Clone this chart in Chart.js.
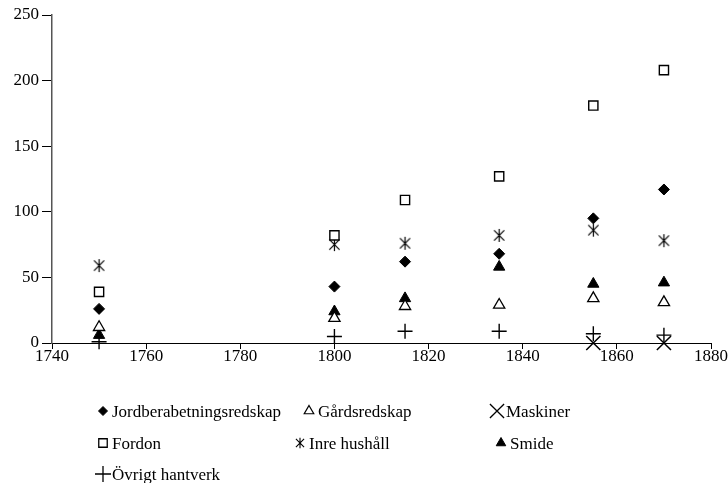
<!DOCTYPE html>
<html>
<head>
<meta charset="utf-8">
<script src="https://cdn.jsdelivr.net/npm/chart.js@4/dist/chart.umd.min.js"></script>
<style>
html,body{margin:0;padding:0;background:#fff;}
#wrap{position:relative;width:728px;height:483px;}
</style>
</head>
<body>
<div id="wrap"><canvas id="c" width="728" height="483"></canvas></div>
<script>
const years = [1750, 1800, 1815, 1835, 1855, 1870];
const seriesNames = ["Jordberabetningsredskap", "Gårdsredskap", "Maskiner", "Fordon", "Inre hushåll", "Smide", "Övrigt hantverk"];
const jord = [26, 43, 62, 68, 95, 117];
const gards = [12, 19, 28, 29, 34, 31];
const maskiner = [null, null, null, null, 0, 0];
const fordon = [39, 82, 109, 127, 181, 208];
const inre = [59, 75, 76, 82, 86, 78];
const smide = [6, 24, 34, 58, 45, 46];
const ovrigt = [1, 5, 9, 9, 7, 6];
const xTicks = [1740, 1760, 1780, 1800, 1820, 1840, 1860, 1880];
const yTicks = [0, 50, 100, 150, 200, 250];

const FONT = "'Liberation Serif', 'Times New Roman', serif";

function makeAsterisk(size, lw) {
  const c = document.createElement('canvas');
  c.width = size; c.height = size;
  const g = c.getContext('2d');
  g.strokeStyle = '#000'; g.lineWidth = lw;
  const m = size / 2, a = size * 0.34, v = size * 0.44;
  g.beginPath();
  g.moveTo(m - a, m - a); g.lineTo(m + a, m + a);
  g.moveTo(m + a, m - a); g.lineTo(m - a, m + a);
  g.moveTo(m, m - v); g.lineTo(m, m + v);
  g.stroke();
  return c;
}
const asterisk = makeAsterisk(15, 1.2);
const asteriskSmall = makeAsterisk(12, 1.1);

function pts(arr) { return years.map((y, i) => ({x: y, y: arr[i]})).filter(p => p.y !== null); }

const styles = [
  {data: jord, pointStyle: 'rectRot', radius: 5.5, bg: '#000', bw: 1},
  {data: gards, pointStyle: 'triangle', radius: 6.5, bg: '#fff', bw: 1.3},
  {data: maskiner, pointStyle: 'crossRot', radius: 10, bg: '#fff', bw: 1.5},
  {data: fordon, pointStyle: 'rect', radius: 6.5, bg: '#fff', bw: 1.4},
  {data: inre, pointStyle: asterisk, radius: 7, bg: '#fff', bw: 1.4},
  {data: smide, pointStyle: 'triangle', radius: 6.5, bg: '#000', bw: 1},
  {data: ovrigt, pointStyle: 'cross', radius: 7.5, bg: '#fff', bw: 1.4}
];

const datasets = styles.map((s, i) => ({
  label: seriesNames[i],
  data: pts(s.data),
  showLine: false,
  clip: false,
  pointStyle: s.pointStyle,
  pointRadius: s.radius,
  pointHoverRadius: s.radius,
  pointBackgroundColor: s.bg,
  pointBorderColor: '#000',
  pointBorderWidth: s.bw
}));

// legend layout (marker x, row y)
const legendPos = [
  [103, 413], [309, 413], [497, 413],
  [103, 445], [300, 445], [501, 445],
  [103, 476]
];
const legendMarker = [
  {pointStyle: 'rectRot', radius: 4.5, bg: '#000', bw: 1},
  {pointStyle: 'triangle', radius: 5.5, bg: '#fff', bw: 1.2},
  {pointStyle: 'crossRot', radius: 10, bg: '#fff', bw: 1.3},
  {pointStyle: 'rect', radius: 6, bg: '#fff', bw: 1.3},
  {pointStyle: asteriskSmall, radius: 6, bg: '#fff', bw: 1.2},
  {pointStyle: 'triangle', radius: 5.5, bg: '#000', bw: 1},
  {pointStyle: 'cross', radius: 8, bg: '#fff', bw: 1.3}
];

const legendPlugin = {
  id: 'customLegend',
  afterDraw(chart) {
    const ctx = chart.ctx;
    ctx.save();
    chart.data.datasets.forEach((ds, i) => {
      const [x, y] = legendPos[i];
      const m = legendMarker[i];
      ctx.fillStyle = m.bg; ctx.strokeStyle = '#000'; ctx.lineWidth = m.bw;
      Chart.helpers.drawPoint(ctx, {pointStyle: m.pointStyle, radius: m.radius, rotation: 0, borderWidth: m.bw}, x, y - 2);
      ctx.fillStyle = '#000';
      ctx.font = "17px " + FONT;
      ctx.textBaseline = 'middle';
      ctx.textAlign = 'left';
      ctx.fillText(ds.label, x + 9, y);
    });
    ctx.restore();
  }
};

new Chart(document.getElementById('c'), {
  type: 'scatter',
  data: {datasets},
  options: {
    responsive: false,
    animation: false,
    layout: {padding: {left: 0, right: 17, top: 15, bottom: 110}},
    plugins: {legend: {display: false}, tooltip: {enabled: false}},
    scales: {
      x: {
        type: 'linear', min: 1740, max: 1880,
        afterBuildTicks(s) { s.ticks = xTicks.map(v => ({value: v})); },
        afterFit(s) { s.height = 30; },
        grid: {drawOnChartArea: false, drawTicks: true, tickLength: 6, color: '#000'},
        border: {color: '#000', width: 1},
        ticks: {color: '#000', font: {family: FONT, size: 17}, padding: -3, maxRotation: 0, callback: v => String(v)}
      },
      y: {
        min: 0, max: 250,
        afterBuildTicks(s) { s.ticks = yTicks.map(v => ({value: v})); },
        afterFit(s) { s.width = 52; },
        grid: {drawOnChartArea: false, drawTicks: true, tickLength: 10, color: '#000'},
        border: {color: '#555', width: 1.5},
        ticks: {color: '#000', font: {family: FONT, size: 17}, padding: 3, callback: v => String(v)}
      }
    }
  },
  plugins: [legendPlugin]
});
</script>
</body>
</html>
